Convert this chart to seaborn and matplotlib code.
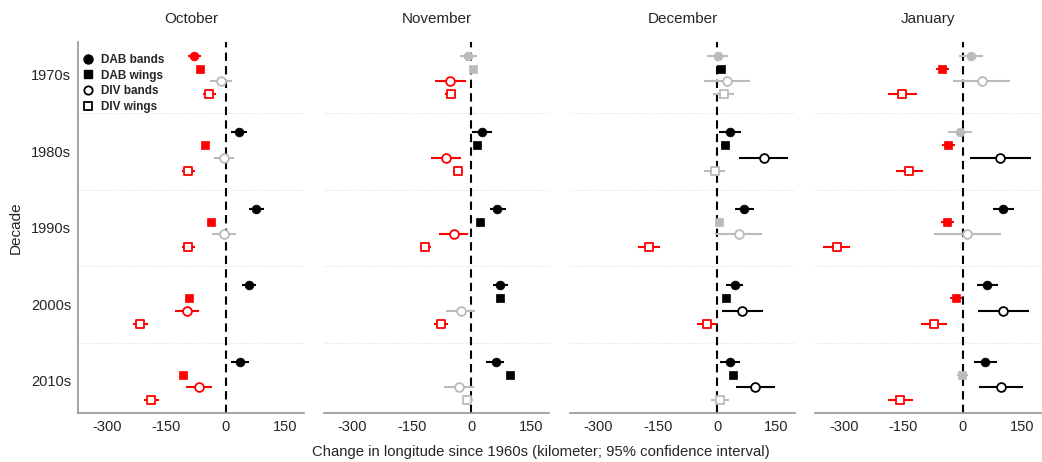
"""
Change in longitude since the 1960s, by month, decade and measurement type.
Forest-style panels: point estimate + 95% CI, coloured by significance.
"""

import numpy as np
import pandas as pd
import matplotlib
matplotlib.use('Agg')
import matplotlib.pyplot as plt
from matplotlib.lines import Line2D
import seaborn as sns

# ==================== data ====================
MONTHS = ['October', 'November', 'December', 'January']
DECADES = ['1970s', '1980s', '1990s', '2000s', '2010s']
TYPES = ['DAB bands', 'DAB wings', 'DIV bands', 'DIV wings']
XTICKS = [-300, -150, 0, 150]

# rows = decades, columns = TYPES (estimate, lower CI, upper CI; km)
OCT_EST = [[-79, -64, -12, -42], [33, -51, -3, -94], [77, -36, -3, -95],
           [59, -92, -98, -215], [37, -108, -68, -188]]
OCT_LO = [[-96, -70, -40, -57], [14, -57, -28, -110], [60, -42, -33, -109],
          [42, -98, -128, -234], [14, -114, -101, -206]]
OCT_HI = [[-61, -58, 15, -24], [53, -45, 22, -77], [98, -30, 26, -78],
          [77, -86, -68, -195], [60, -102, -35, -168]]

NOV_EST = [[-8, 3, -53, -52], [26, 15, -64, -34], [66, 23, -45, -118],
           [73, 72, -27, -77], [61, 97, -32, -10]]
NOV_LO = [[-29, -3, -92, -66], [2, 9, -101, -47], [46, 17, -82, -130],
          [54, 66, -64, -93], [38, 91, -70, -22]]
NOV_HI = [[15, 9, -14, -38], [51, 21, -26, -20], [87, 29, -8, -103],
          [93, 78, 10, -58], [83, 103, 6, 4]]

DEC_EST = [[1, 10, 24, 17], [32, 19, 118, -6], [69, 5, 54, -173],
           [44, 23, 64, -26], [32, 41, 95, 8]]
DEC_LO = [[-26, 2, -33, -10], [4, 11, 56, -33], [46, -3, -6, -199],
          [23, 14, 13, -51], [8, 32, 47, -15]]
DEC_HI = [[28, 18, 82, 43], [60, 27, 178, 21], [93, 13, 113, -145],
          [66, 32, 115, -1], [59, 50, 145, 31]]

JAN_EST = [[21, -52, 47, -153], [-7, -37, 94, -136], [102, -39, 11, -318],
           [61, -17, 102, -73], [55, -1, 96, -158]]
JAN_LO = [[-9, -68, -24, -188], [-37, -52, 18, -170], [76, -55, -74, -352],
          [35, -33, 38, -105], [27, -16, 40, -189]]
JAN_HI = [[51, -36, 118, -115], [24, -20, 171, -100], [128, -22, 95, -285],
          [88, -2, 167, -39], [85, 14, 152, -126]]

# ==================== styling ====================
RED = '#FF0000'
BLACK = '#000000'
GRAY = '#BBBBBB'
MARKERS = {'DAB bands': 'o', 'DAB wings': 's', 'DIV bands': 'o', 'DIV wings': 's'}
FILLED = {'DAB bands': True, 'DAB wings': True, 'DIV bands': False, 'DIV wings': False}
SIZES = {'o': 40, 's': 30}
OFFSETS = {'DAB bands': -0.25, 'DAB wings': -1 / 12, 'DIV bands': 1 / 12, 'DIV wings': 0.25}


def build_frame():
    """Long table: one row per month / decade / type"""
    est = {'October': OCT_EST, 'November': NOV_EST, 'December': DEC_EST, 'January': JAN_EST}
    lo = {'October': OCT_LO, 'November': NOV_LO, 'December': DEC_LO, 'January': JAN_LO}
    hi = {'October': OCT_HI, 'November': NOV_HI, 'December': DEC_HI, 'January': JAN_HI}
    rows = []
    for m in MONTHS:
        for i, dec in enumerate(DECADES):
            for j, t in enumerate(TYPES):
                rows.append({'month': m, 'decade': dec, 'type': t,
                             'est': est[m][i][j], 'lo': lo[m][i][j], 'hi': hi[m][i][j],
                             'y': i + OFFSETS[t]})
    df = pd.DataFrame(rows)
    # significance -> colour
    df['color'] = np.where(df['hi'] < 0, RED, np.where(df['lo'] > 0, BLACK, GRAY))
    return df


def draw_panel(ax, sub):
    """One month panel"""
    for k in range(len(DECADES) - 1):
        ax.axhline(k + 0.5, color='#DDDDDD', lw=0.8, ls=':', zorder=0)
    ax.axvline(0, color='black', lw=1.5, dashes=(4, 2.5), zorder=1)

    # confidence intervals
    ax.hlines(sub['y'], sub['lo'], sub['hi'], colors=sub['color'], lw=1.5, zorder=2)

    # point estimates
    for t in TYPES:
        for c in [RED, BLACK, GRAY]:
            part = sub[(sub['type'] == t) & (sub['color'] == c)]
            if part.empty:
                continue
            mk = MARKERS[t]
            if FILLED[t]:
                sns.scatterplot(data=part, x='est', y='y', ax=ax, marker=mk, s=SIZES[mk],
                                color=c, edgecolor=c, linewidth=0.5, zorder=3)
            else:
                sns.scatterplot(data=part, x='est', y='y', ax=ax, marker=mk, s=SIZES[mk],
                                color=c, facecolor='white', edgecolor=c, linewidth=1.3,
                                zorder=3)

    ax.set_xlim(-372, 197)
    ax.set_ylim(4.42, -0.43)
    ax.set_xticks(XTICKS)
    ax.set_xticklabels([str(v) for v in XTICKS])
    ax.set_xlabel('')
    ax.set_ylabel('')
    ax.tick_params(length=0, labelsize=10.5, pad=5)
    for s in ['top', 'right']:
        ax.spines[s].set_visible(False)
    ax.spines['bottom'].set_color('#999999')
    ax.spines['left'].set_color('#999999')


def main():
    sns.set_theme(style='white')
    plt.rcParams['font.family'] = ['Liberation Sans', 'DejaVu Sans']

    df = build_frame()
    fig, axes = plt.subplots(1, 4, figsize=(10.42, 4.62), dpi=100, sharey=True)
    fig.subplots_adjust(left=0.075, right=0.999, top=0.909, bottom=0.106, wspace=0.09)

    for ax, m in zip(axes, MONTHS):
        draw_panel(ax, df[df['month'] == m])
        ax.set_title(m, fontsize=11, pad=14)

    axes[0].set_yticks(range(len(DECADES)))
    axes[0].set_yticklabels(DECADES)
    axes[0].set_ylabel('Decade', fontsize=11, labelpad=6)
    for ax in axes[1:]:
        ax.spines['left'].set_visible(False)
        ax.tick_params(axis='y', labelleft=False)

    # legend (black markers only)
    handles = [
        Line2D([], [], ls='', marker='o', color='black', markersize=6.5),
        Line2D([], [], ls='', marker='s', color='black', markersize=5.5),
        Line2D([], [], ls='', marker='o', markerfacecolor='white', markeredgecolor='black',
               markeredgewidth=1.3, markersize=6),
        Line2D([], [], ls='', marker='s', markerfacecolor='white', markeredgecolor='black',
               markeredgewidth=1.3, markersize=5.5),
    ]
    axes[0].legend(handles, TYPES, loc='upper left', frameon=False, prop={'weight': 'bold', 'size': 8.5},
                   handletextpad=0.6, labelspacing=0.3, borderaxespad=0.3, handlelength=1.0,
                   bbox_to_anchor=(-0.02, 0.99))

    fig.text(0.519, 0.022, 'Change in longitude since 1960s (kilometer; 95% confidence interval)',
             ha='center', va='center', fontsize=10.7)

    fig.savefig('out.png', dpi=100)
    plt.close(fig)


if __name__ == '__main__':
    main()
